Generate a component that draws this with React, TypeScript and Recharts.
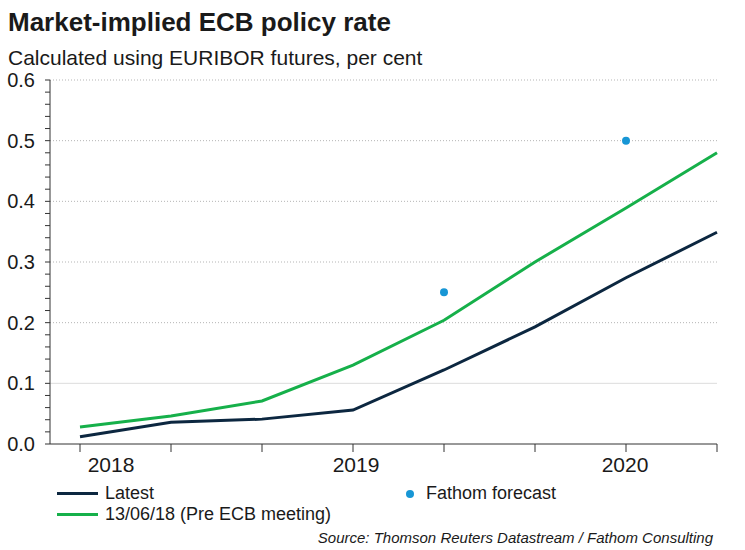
import {
  ComposedChart,
  Line,
  ReferenceLine,
  Scatter,
  XAxis,
  YAxis,
} from "recharts";

// quarterly points, mid-2018 to end-2020
const PERIODS = [0, 1, 2, 3, 4, 5, 6, 7];
const LATEST = [0.012, 0.036, 0.041, 0.056, 0.122, 0.193, 0.274, 0.349];
const PRE_ECB = [0.028, 0.046, 0.071, 0.13, 0.204, 0.3, 0.389, 0.48];
const FORECAST_PERIODS = [4, 6];
const FORECAST = [0.25, 0.5];
const YEAR_LABELS: Record<number, string> = { 0: "2018", 3: "2019", 6: "2020" };
const Y_TICKS = [
  0, 0.02, 0.04, 0.06, 0.08, 0.1, 0.12, 0.14, 0.16, 0.18, 0.2, 0.22, 0.24, 0.26,
  0.28, 0.3, 0.32, 0.34, 0.36, 0.38, 0.4, 0.42, 0.44, 0.46, 0.48, 0.5, 0.52,
  0.54, 0.56, 0.58, 0.6,
];
const GRID_VALUES = [0.1, 0.2, 0.3, 0.4, 0.5, 0.6];

const NAVY = "#0c2740";
const GREEN = "#16b04a";
const BLUE = "#1796d5";
const TEXT = "#1a1a1a";
const FONT = "'Liberation Sans', Arial, sans-serif";

// label offsets from their tick
const YEAR_DX: Record<number, number> = { 0: 31, 3: 3, 6: -1 };

const rows = PERIODS.map((p, i) => ({ x: p, latest: LATEST[i], pre: PRE_ECB[i] }));
const forecastRows = FORECAST_PERIODS.map((p, i) => ({ x: p, forecast: FORECAST[i] }));

function YearTick({ x, y, payload }: { x?: number; y?: number; payload?: { value: number } }) {
  const label = payload ? YEAR_LABELS[payload.value] : undefined;
  if (!label) return null;
  return (
    <text
      x={(x || 0) + YEAR_DX[payload!.value]}
      y={(y || 0) + 18}
      textAnchor="middle"
      fontSize={21}
      fill={TEXT}
      fontFamily={FONT}
    >
      {label}
    </text>
  );
}

export default function App() {
  return (
    <div
      style={{
        position: "absolute",
        left: 0,
        top: 0,
        width: 745,
        height: 550,
        background: "#fff",
        fontFamily: FONT,
        color: TEXT,
      }}
    >
      <div style={{ position: "absolute", left: 8, top: 7, fontSize: 26, fontWeight: 700, lineHeight: "30px" }}>
        Market-implied ECB policy rate
      </div>
      <div style={{ position: "absolute", left: 8, top: 46, fontSize: 21, lineHeight: "24px" }}>
        Calculated using EURIBOR futures, per cent
      </div>
      <div style={{ position: "absolute", left: 0, top: 0 }}>
        <ComposedChart
          width={745}
          height={500}
          data={rows}
          margin={{ top: 80, right: 28, bottom: 20, left: 0 }}
        >
          <XAxis
            dataKey="x"
            type="number"
            domain={[0, 7]}
            ticks={PERIODS}
            padding={{ left: 30, right: 0 }}
            axisLine={{ stroke: "#333" }}
            tickLine={{ stroke: "#333" }}
            tickSize={8}
            tick={<YearTick />}
            height={36}
            interval={0}
          />
          <YAxis
            type="number"
            domain={[0, 0.6]}
            ticks={Y_TICKS}
            interval={0}
            width={50}
            axisLine={{ stroke: "#333" }}
            tickLine={{ stroke: "#333" }}
            tickSize={5}
            tickMargin={10}
            tickFormatter={(v: number) =>
              Math.abs(v * 10 - Math.round(v * 10)) < 1e-6 ? v.toFixed(1) : ""
            }
            tick={{ fill: TEXT, fontSize: 20, fontFamily: FONT }}
          />
          {GRID_VALUES.map((v) => (
            <ReferenceLine
              key={v}
              y={v}
              stroke={v === 0.1 ? "#dddddd" : "#b5b5b5"}
              strokeWidth={1}
              strokeDasharray={v === 0.1 ? undefined : "1 2"}
            />
          ))}
          <Line
            type="linear"
            dataKey="pre"
            stroke={GREEN}
            strokeWidth={3}
            dot={false}
            isAnimationActive={false}
          />
          <Line
            type="linear"
            dataKey="latest"
            stroke={NAVY}
            strokeWidth={3}
            dot={false}
            isAnimationActive={false}
          />
          <Scatter
            data={forecastRows}
            dataKey="forecast"
            fill={BLUE}
            shape={(p: { cx?: number; cy?: number }) => <circle cx={p.cx} cy={p.cy} r={4} fill={BLUE} />}
            isAnimationActive={false}
          />
        </ComposedChart>
      </div>
      <div style={{ position: "absolute", left: 57, top: 483, fontSize: 18 }}>
        <div style={{ display: "flex", alignItems: "center", height: 21 }}>
          <span style={{ display: "inline-block", width: 41, height: 3, background: NAVY, marginRight: 7 }} />
          Latest
        </div>
        <div style={{ display: "flex", alignItems: "center", height: 21 }}>
          <span style={{ display: "inline-block", width: 41, height: 3, background: GREEN, marginRight: 7 }} />
          13/06/18 (Pre ECB meeting)
        </div>
      </div>
      <div
        style={{
          position: "absolute",
          left: 406,
          top: 483,
          fontSize: 18,
          display: "flex",
          alignItems: "center",
          height: 21,
        }}
      >
        <span style={{ display: "inline-block", width: 8, height: 8, borderRadius: 4, background: BLUE, marginRight: 12 }} />
        Fathom forecast
      </div>
      <div
        style={{
          position: "absolute",
          right: 32,
          top: 529,
          fontSize: 15,
          fontStyle: "italic",
          fontFamily: "'Liberation Sans Narrow', 'Arial Narrow', " + FONT,
        }}
      >
        Source: Thomson Reuters Datastream / Fathom Consulting
      </div>
    </div>
  );
}
